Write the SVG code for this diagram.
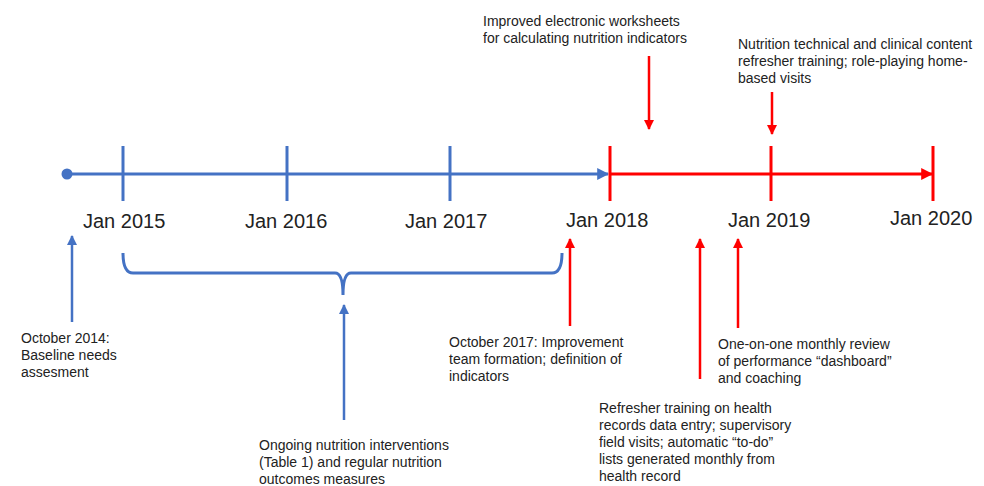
<svg xmlns="http://www.w3.org/2000/svg" width="984" height="486" viewBox="0 0 984 486">
<defs>
<style>
text{font-family:"Liberation Sans",Arial,sans-serif;fill:#222}
.yr{font-size:20px}
.lbl{font-size:14px}
.b{stroke:#4472C4;fill:none}
.r{stroke:#FF0000;fill:none}
</style>
<marker id="ab" viewBox="0 0 10 10" refX="9" refY="5" markerWidth="4" markerHeight="4" orient="auto" markerUnits="strokeWidth"><path d="M0,0L10,5L0,10z" fill="#4472C4"/></marker>
<marker id="ar" viewBox="0 0 10 10" refX="9" refY="5" markerWidth="4" markerHeight="4" orient="auto" markerUnits="strokeWidth"><path d="M0,0L10,5L0,10z" fill="#FF0000"/></marker>
</defs>
<rect width="984" height="486" fill="#fff"/>
<g id="timeline">
<circle cx="67" cy="174" r="5.5" fill="#4472C4"/>
<line class="b" x1="67" y1="174" x2="608" y2="174" stroke-width="3" marker-end="url(#ab)"/>
<line class="r" x1="610" y1="174" x2="932" y2="174" stroke-width="3" marker-end="url(#ar)"/>
<g class="b" stroke-width="3">
<line x1="123" y1="146" x2="123" y2="201"/>
<line x1="287" y1="146" x2="287" y2="201"/>
<line x1="450" y1="146" x2="450" y2="201"/>
</g>
<g class="r" stroke-width="3">
<line x1="610" y1="146" x2="610" y2="201"/>
<line x1="771" y1="146" x2="771" y2="201"/>
<line x1="933" y1="146" x2="933" y2="201"/>
</g>
</g>
<g id="years">
<text class="yr" x="83" y="228">Jan 2015</text>
<text class="yr" x="245" y="228">Jan 2016</text>
<text class="yr" x="405" y="228">Jan 2017</text>
<text class="yr" x="566" y="227">Jan 2018</text>
<text class="yr" x="728" y="227">Jan 2019</text>
<text class="yr" x="890" y="225">Jan 2020</text>
</g>
<g id="brace">
<path class="b" stroke-width="3" d="M123,253 Q123,273 133,273 L335,273 Q343,273 343,295 Q343,273 351,273 L552,273 Q562,273 562,253"/>
</g>
<g id="connectors" stroke-width="2.5">
<line class="b" x1="72" y1="322" x2="72" y2="236" marker-end="url(#ab)"/>
<line class="b" x1="344" y1="420" x2="344" y2="305" marker-end="url(#ab)"/>
<line class="r" x1="570" y1="326" x2="570" y2="239" marker-end="url(#ar)"/>
<line class="r" x1="700" y1="379" x2="700" y2="239" marker-end="url(#ar)"/>
<line class="r" x1="738" y1="328" x2="738" y2="239" marker-end="url(#ar)"/>
<line class="r" x1="649" y1="56" x2="649" y2="129" marker-end="url(#ar)"/>
<line class="r" x1="772" y1="92" x2="772" y2="134" marker-end="url(#ar)"/>
</g>
<g id="n-oct2014">
<text class="lbl" x="21" y="343">October 2014:</text>
<text class="lbl" x="21" y="360">Baseline needs</text>
<text class="lbl" x="21" y="377">assesment</text>
</g>
<g id="n-ongoing">
<text class="lbl" x="259" y="450">Ongoing nutrition interventions</text>
<text class="lbl" x="259" y="467">(Table 1) and regular nutrition</text>
<text class="lbl" x="259" y="484">outcomes measures</text>
</g>
<g id="n-oct2017">
<text class="lbl" x="449" y="347">October 2017: Improvement</text>
<text class="lbl" x="449" y="364">team formation; definition of</text>
<text class="lbl" x="449" y="381">indicators</text>
</g>
<g id="n-refresher">
<text class="lbl" x="599" y="413">Refresher training on health</text>
<text class="lbl" x="599" y="430">records data entry; supervisory</text>
<text class="lbl" x="599" y="447">field visits; automatic “to-do”</text>
<text class="lbl" x="599" y="464">lists generated monthly from</text>
<text class="lbl" x="599" y="481">health record</text>
</g>
<g id="n-oneonone">
<text class="lbl" x="718" y="349">One-on-one monthly review</text>
<text class="lbl" x="718" y="366">of performance “dashboard”</text>
<text class="lbl" x="718" y="383">and coaching</text>
</g>
<g id="n-worksheets">
<text class="lbl" x="483" y="26">Improved electronic worksheets</text>
<text class="lbl" x="483" y="43">for calculating nutrition indicators</text>
</g>
<g id="n-nutrition">
<text class="lbl" x="738" y="49">Nutrition technical and clinical content</text>
<text class="lbl" x="738" y="66">refresher training; role-playing home-</text>
<text class="lbl" x="738" y="83">based visits</text>
</g>
</svg>
